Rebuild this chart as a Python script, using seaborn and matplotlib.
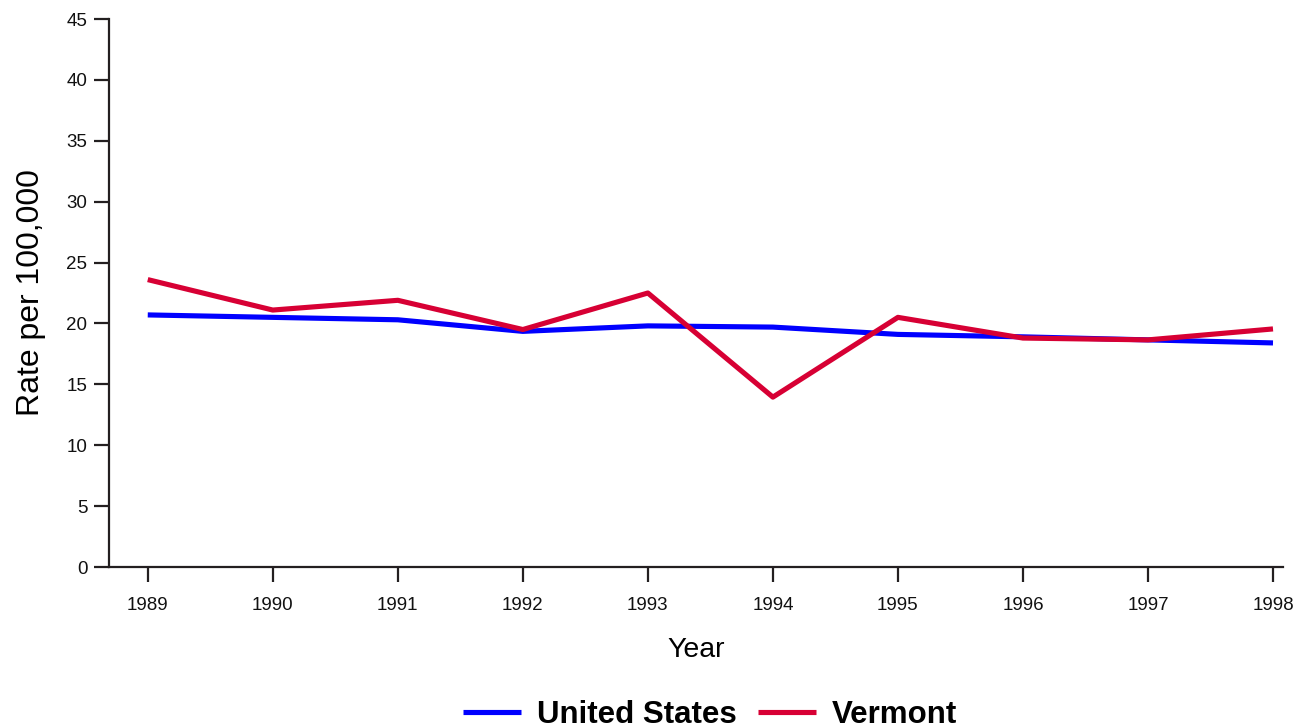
import pandas as pd
import matplotlib
matplotlib.use("Agg")
import matplotlib.pyplot as plt
import seaborn as sns

# data
years = [1989, 1990, 1991, 1992, 1993, 1994, 1995, 1996, 1997, 1998]
us_rate = [20.7, 20.5, 20.3, 19.35, 19.8, 19.7, 19.1, 18.9, 18.65, 18.4]
vt_rate = [23.6, 21.1, 21.9, 19.5, 22.5, 13.95, 20.5, 18.8, 18.65, 19.55]
series_names = ["United States", "Vermont"]
series_colors = ["#0000FF", "#D70034"]
y_ticks = list(range(0, 50, 5))

df = pd.DataFrame({
    "Year": years * 2,
    "Rate": us_rate + vt_rate,
    "Area": [series_names[0]] * len(years) + [series_names[1]] * len(years),
})

sns.set_theme(style="ticks")
plt.rcParams['font.family'] = ['Liberation Sans', 'DejaVu Sans']
plt.rcParams['text.color'] = 'black'
plt.rcParams['axes.labelcolor'] = 'black'

fig = plt.figure(figsize=(13.12, 7.27), dpi=100)
ax = fig.add_axes([109 / 1312, 1 - 567 / 727, (1283 - 109) / 1312, (567 - 19) / 727])

sns.lineplot(data=df, x="Year", y="Rate", hue="Area", hue_order=series_names,
             palette=series_colors, linewidth=3.7, ax=ax, legend=False)
for ln in ax.get_lines():
    ln.set_solid_capstyle("butt")

ax.set_xlim(1988.69, 1998.08)
ax.set_ylim(0, 45)
ax.set_xticks(years)
ax.set_xticklabels([str(y) for y in years])
ax.set_yticks(y_ticks)

spine_col = "#231f20"
for side in ["top", "right"]:
    ax.spines[side].set_visible(False)
for side in ["left", "bottom"]:
    ax.spines[side].set_linewidth(1.6)
    ax.spines[side].set_color(spine_col)
ax.tick_params(axis="both", direction="out", length=10.5, width=1.6,
               color=spine_col, labelsize=13.5, labelcolor="#111111")
ax.tick_params(axis="x", pad=11)
ax.tick_params(axis="y", pad=5)

ax.set_xlabel("Year", fontsize=20.5, labelpad=17)
ax.set_ylabel("Rate per 100,000", fontsize=23, labelpad=15)

handles = [plt.Line2D([], [], color=c, linewidth=3.7, solid_capstyle="butt")
           for c in series_colors]
fig.legend(handles, series_names, loc="center", bbox_to_anchor=(710 / 1312, 0.017),
           ncol=2, frameon=False, prop={"weight": "bold", "size": 22.5},
           handlelength=1.85, handletextpad=0.5, columnspacing=0.7)

fig.savefig("out.png", dpi=100)
